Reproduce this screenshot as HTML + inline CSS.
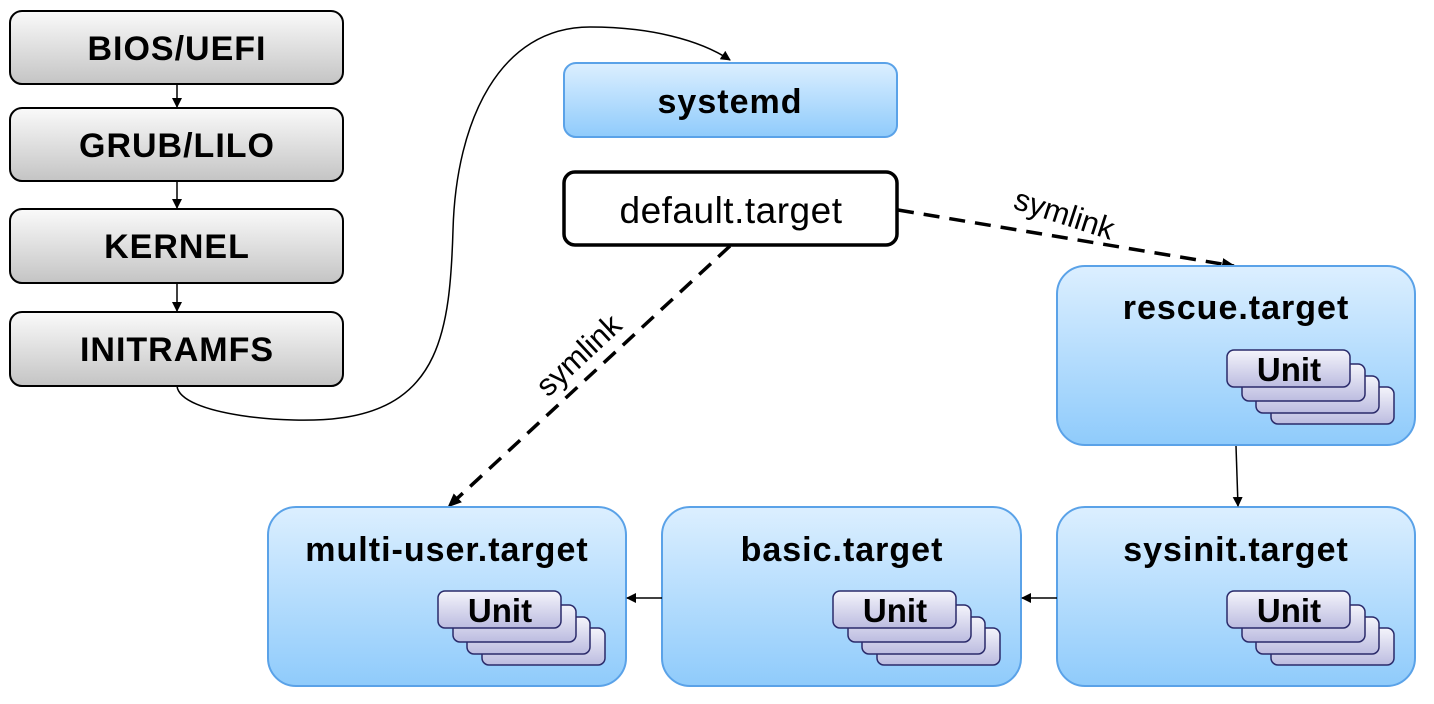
<!DOCTYPE html>
<html><head><meta charset="utf-8"><style>
html,body{margin:0;padding:0;background:#fff;}
svg{display:block;}
text{font-family:"Liberation Sans",sans-serif;}
</style></head><body>
<svg width="1434" height="704" viewBox="0 0 1434 704" xmlns="http://www.w3.org/2000/svg">
<defs>
<linearGradient id="gray" x1="0" y1="0" x2="0" y2="1"><stop offset="0" stop-color="#fafafa"/><stop offset="1" stop-color="#c4c4c4"/></linearGradient>
<linearGradient id="blue" x1="0" y1="0" x2="0" y2="1"><stop offset="0" stop-color="#dcefff"/><stop offset="1" stop-color="#8fcbfb"/></linearGradient>
<linearGradient id="unit" x1="0" y1="0" x2="0" y2="1"><stop offset="0" stop-color="#f4f4fb"/><stop offset="1" stop-color="#bcbce0"/></linearGradient>
<marker id="ah" markerWidth="10" markerHeight="10" refX="9" refY="5" orient="auto" markerUnits="userSpaceOnUse"><path d="M0,0 L10,5 L0,10 z" fill="#000"/></marker>
<marker id="ah2" markerWidth="14" markerHeight="12" refX="12" refY="6" orient="auto" markerUnits="userSpaceOnUse"><path d="M0,0 L14,6 L0,12 z" fill="#000"/></marker>
<g id="units">
<rect x="44" y="37" width="123" height="37" rx="7" fill="url(#unit)" stroke="#2a2a6a" stroke-width="1.5"/>
<rect x="29" y="26" width="123" height="37" rx="7" fill="url(#unit)" stroke="#2a2a6a" stroke-width="1.5"/>
<rect x="15" y="14" width="123" height="37" rx="7" fill="url(#unit)" stroke="#2a2a6a" stroke-width="1.5"/>
<rect x="0" y="0" width="123" height="37" rx="7" fill="url(#unit)" stroke="#2a2a6a" stroke-width="1.5"/>
<text x="62" y="31" font-size="33" font-weight="bold" text-anchor="middle">Unit</text>
</g>
</defs>

<g stroke="#000" stroke-width="2">
<rect x="10" y="11" width="333" height="73" rx="12" fill="url(#gray)"/>
<rect x="10" y="108" width="333" height="73" rx="12" fill="url(#gray)"/>
<rect x="10" y="209" width="333" height="74" rx="12" fill="url(#gray)"/>
<rect x="10" y="312" width="333" height="74" rx="12" fill="url(#gray)"/>
</g>
<g font-size="34" font-weight="bold" text-anchor="middle" letter-spacing="1">
<text x="177" y="60">BIOS/UEFI</text>
<text x="177" y="157">GRUB/LILO</text>
<text x="177" y="258">KERNEL</text>
<text x="177" y="361">INITRAMFS</text>
</g>
<g stroke="#000" stroke-width="1.5" fill="none">
<line x1="177" y1="84" x2="177" y2="107" marker-end="url(#ah)"/>
<line x1="177" y1="181" x2="177" y2="208" marker-end="url(#ah)"/>
<line x1="177" y1="283" x2="177" y2="311" marker-end="url(#ah)"/>
<path d="M177,386 C180,415 290,425 340,418 C440,405 450,330 453,230 C456,120 500,27 590,27 C650,27 700,40 730,60" marker-end="url(#ah)"/>
</g>

<rect x="564" y="63" width="333" height="74" rx="12" fill="url(#blue)" stroke="#5aa2e8" stroke-width="2"/>
<text x="730" y="113" font-size="34" font-weight="bold" text-anchor="middle" letter-spacing="1">systemd</text>
<rect x="564" y="172" width="333" height="73" rx="11" fill="#fff" stroke="#000" stroke-width="3.5"/>
<text x="731" y="223" font-size="37" text-anchor="middle" letter-spacing="0.5">default.target</text>

<g stroke="#000" stroke-width="3.5" stroke-dasharray="16,10" fill="none">
<line x1="730" y1="246" x2="449" y2="506" marker-end="url(#ah2)"/>
<line x1="898" y1="210" x2="1234" y2="266" marker-end="url(#ah2)"/>
</g>
<text transform="translate(548,398) rotate(-43)" font-size="31">symlink</text>
<text transform="translate(1012,208) rotate(18)" font-size="31">symlink</text>

<g fill="url(#blue)" stroke="#5aa2e8" stroke-width="2">
<rect x="1057" y="266" width="358" height="179" rx="28"/>
<rect x="1057" y="507" width="358" height="179" rx="28"/>
<rect x="662" y="507" width="359" height="179" rx="28"/>
<rect x="268" y="507" width="358" height="179" rx="28"/>
</g>
<g font-size="34" font-weight="bold" text-anchor="middle" letter-spacing="1">
<text x="1236" y="319">rescue.target</text>
<text x="1236" y="561">sysinit.target</text>
<text x="842" y="561">basic.target</text>
<text x="447" y="561">multi-user.target</text>
</g>
<use href="#units" x="1227" y="350"/>
<use href="#units" x="1227" y="591"/>
<use href="#units" x="833" y="591"/>
<use href="#units" x="438" y="591"/>

<g stroke="#000" stroke-width="1.5" fill="none">
<line x1="1236" y1="446" x2="1238" y2="506" marker-end="url(#ah)"/>
<line x1="1057" y1="598" x2="1022" y2="598" marker-end="url(#ah)"/>
<line x1="662" y1="598" x2="627" y2="598" marker-end="url(#ah)"/>
</g>
</svg>
</body></html>
